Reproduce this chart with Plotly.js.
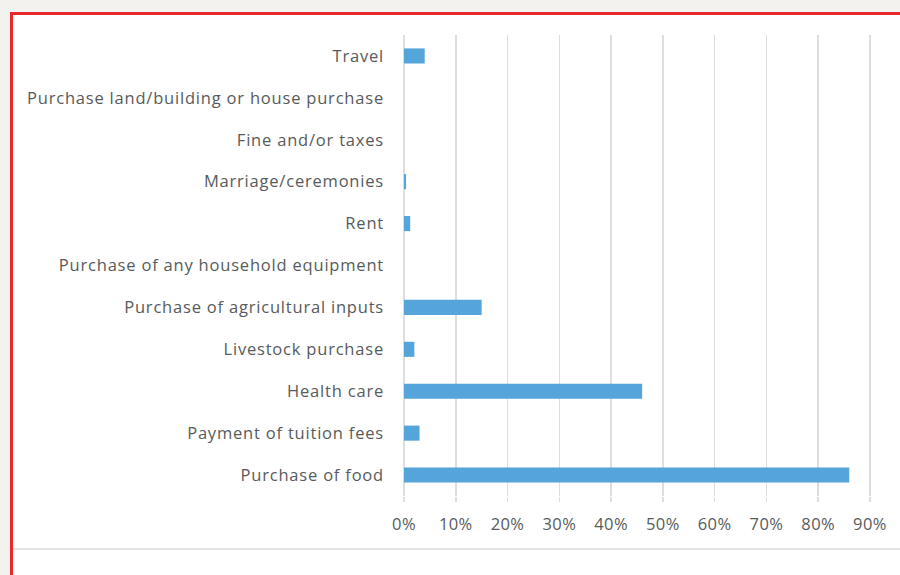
<!DOCTYPE html>
<html>
<head>
<meta charset="utf-8">
<script src="https://cdn.plot.ly/plotly-3.0.1.min.js"></script>
<style>
  html, body { margin: 0; padding: 0; background: #f3f2ef; width: 900px; height: 575px; overflow: hidden; }
  #frame { position: absolute; left: 10px; top: 12px; width: 900px; height: 600px; background: #ffffff;
           border-left: 3px solid #e8282d; border-top: 3px solid #e8282d; }
  #rule { position: absolute; left: 13px; top: 548px; width: 890px; height: 2px; background: #e3e3e3; }
  #chart { position: absolute; left: 0; top: 0; width: 900px; height: 575px; }
  #chart .ytick text { letter-spacing: 0.8px; }
  #chart .xtick text { letter-spacing: 0.4px; }
</style>
</head>
<body>
<div id="frame"></div>
<div id="rule"></div>
<div id="chart"></div>
<script>
const categories = [
  "Purchase of food",
  "Payment of tuition fees",
  "Health care",
  "Livestock purchase",
  "Purchase of agricultural inputs",
  "Purchase of any household equipment",
  "Rent",
  "Marriage/ceremonies",
  "Fine and/or taxes",
  "Purchase land/building or house purchase",
  "Travel"
];
const shares = [0.86, 0.03, 0.46, 0.02, 0.15, 0, 0.012, 0.004, 0, 0, 0.04];
const tickValues = [0, 0.1, 0.2, 0.3, 0.4, 0.5, 0.6, 0.7, 0.8, 0.9];
const tickLabels = ["0%", "10%", "20%", "30%", "40%", "50%", "60%", "70%", "80%", "90%"];

const font = { family: "'Open Sans', Lato, sans-serif", size: 16.5, color: "#575b5b" };

Plotly.newPlot("chart", [{
  type: "bar",
  orientation: "h",
  y: categories,
  x: shares,
  marker: { color: "#55a4da", line: { width: 0 } },
  hoverinfo: "skip"
}], {
  width: 900, height: 575,
  margin: { l: 404, r: 29, t: 35, b: 79 },
  paper_bgcolor: "rgba(0,0,0,0)",
  plot_bgcolor: "rgba(0,0,0,0)",
  bargap: 0.64,
  showlegend: false,
  font: font,
  xaxis: {
    range: [0, 0.902],
    tickvals: tickValues,
    ticktext: tickLabels,
    showgrid: true,
    gridcolor: "#dedede",
    gridwidth: 1.5,
    zeroline: true,
    zerolinecolor: "#dedede",
    zerolinewidth: 1.5,
    ticks: "outside",
    ticklen: 5,
    tickcolor: "#dedede",
    tickwidth: 1.5,
    ticklabelstandoff: 8,
    showline: false,
    tickfont: font,
    fixedrange: true
  },
  yaxis: {
    type: "category",
    categoryorder: "array",
    categoryarray: categories,
    showgrid: false,
    zeroline: false,
    showline: false,
    ticks: "",
    ticklabelstandoff: 19,
    tickfont: font,
    fixedrange: true
  }
}, { displayModeBar: false, staticPlot: true });
</script>
</body>
</html>
